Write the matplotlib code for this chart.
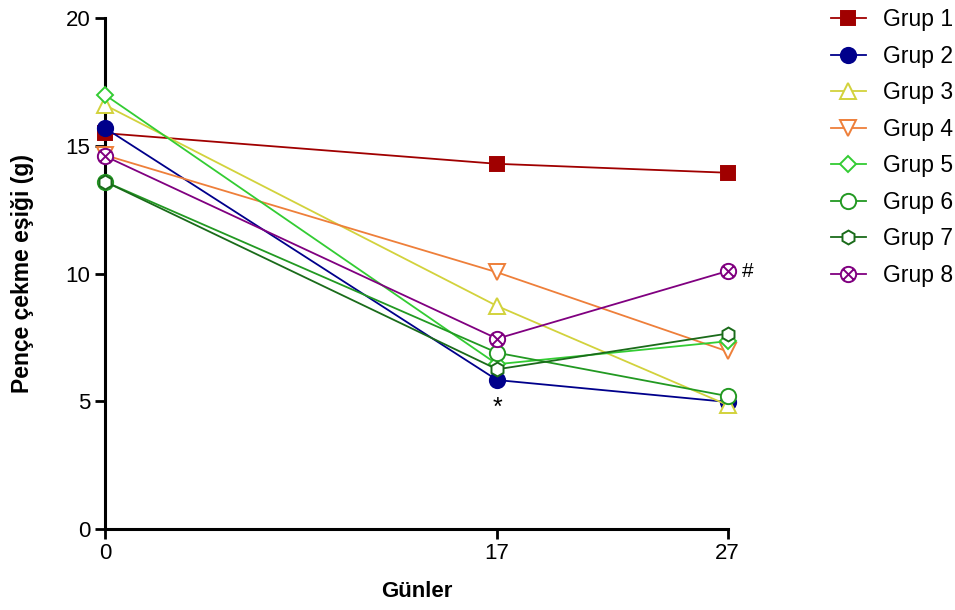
import matplotlib
matplotlib.use('Agg')
import matplotlib.pyplot as plt
from matplotlib.path import Path

plt.rcParams['font.family'] = ['Liberation Sans', 'DejaVu Sans']

# Data
days = [0, 17, 27]
groups = ['Grup 1', 'Grup 2', 'Grup 3', 'Grup 4', 'Grup 5', 'Grup 6', 'Grup 7', 'Grup 8']
grup1 = [15.5, 14.3, 13.95]
grup2 = [15.7, 5.83, 4.97]
grup3 = [16.6, 8.73, 4.85]
grup4 = [14.64, 10.05, 6.95]
grup5 = [17.0, 6.45, 7.35]
grup6 = [13.6, 6.9, 5.2]
grup7 = [13.6, 6.25, 7.65]
grup8 = [14.6, 7.45, 10.1]
series = [grup1, grup2, grup3, grup4, grup5, grup6, grup7, grup8]

# circle with a cross inside, for Grup 8
d = 0.7
circle_x = Path.make_compound_path(Path.unit_circle(),
                                   Path([[-d, -d], [d, d]]),
                                   Path([[-d, d], [d, -d]]))

colors = ['#A00000', '#00008B', '#D2D23C', '#EE7F3A', '#33CC33', '#229922', '#1A6B1A', '#800080']
markers = ['s', 'o', '^', 'v', 'D', 'o', 'h', circle_x]
msizes = [10, 11, 11, 11, 8, 11, 10, 11]
filled = [True, True, False, False, False, False, False, False]

fig = plt.figure(figsize=(9.55, 6.1), dpi=100)
ax = fig.add_axes([0.110, 0.133, 0.652, 0.837])

for name, vals, c, m, ms, f in zip(groups, series, colors, markers, msizes, filled):
    ax.plot(days, vals, color=c, lw=1.3, marker=m, markersize=ms,
            markerfacecolor=c if f else 'white', markeredgecolor=c,
            markeredgewidth=1.4, label=name, clip_on=False, zorder=3)

# significance marks
ax.text(17, grup2[1] - 1.1, '*', ha='center', va='center', fontsize=18)
ax.text(27.6, grup8[2], '#', ha='left', va='center', fontsize=15)

ax.set_xlim(0, 27)
ax.set_ylim(0, 20)
ax.set_xticks(days)
ax.set_yticks([0, 5, 10, 15, 20])
ax.tick_params(labelsize=16, width=2, length=7, direction='out')
for s in ['top', 'right']:
    ax.spines[s].set_visible(False)
for s in ['left', 'bottom']:
    ax.spines[s].set_linewidth(2.2)

ax.set_xlabel('Günler', fontsize=16, fontweight='bold', labelpad=12)
ax.set_ylabel('Pençe çekme eşiği (g)', fontsize=16.5, fontweight='bold', labelpad=23)

ax.legend(loc='upper left', bbox_to_anchor=(1.133, 1.06), frameon=False,
          fontsize=16.5, handlelength=1.5, labelspacing=0.59, handletextpad=0.75)

fig.savefig('out.png', dpi=100)
